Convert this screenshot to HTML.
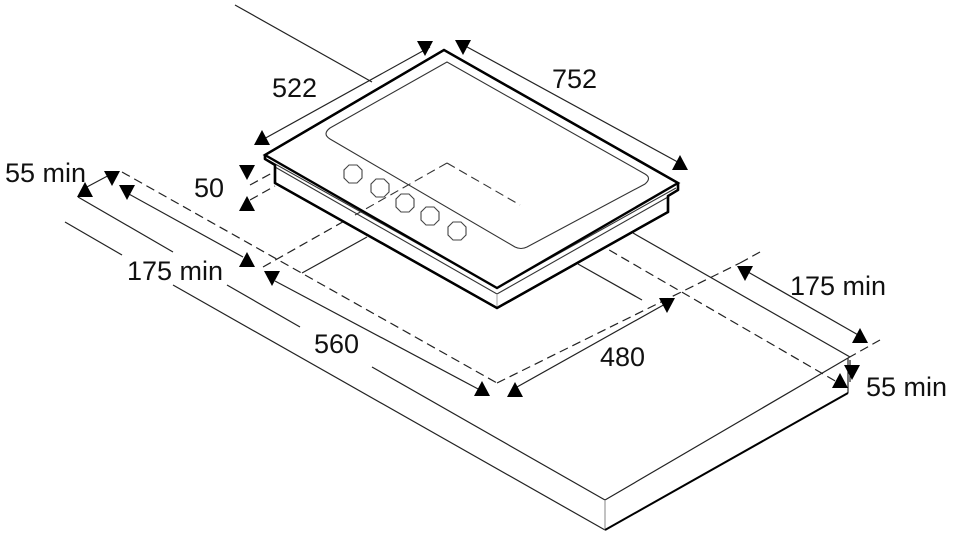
<!DOCTYPE html>
<html><head><meta charset="utf-8"><style>
html,body{margin:0;padding:0;background:#fff}
svg{display:block}
text{font-family:"Liberation Sans",sans-serif;font-size:27px;fill:#111}
</style></head><body>
<svg width="960" height="549" viewBox="0 0 960 549" xmlns="http://www.w3.org/2000/svg">
<defs>
<polygon id="dn" points="-8,-15 8,-15 0,0" fill="#000"/>
<polygon id="up" points="-8,15 8,15 0,0" fill="#000"/>
</defs>
<g stroke="#222" stroke-width="1.2" fill="none">
<line x1="235" y1="5" x2="372" y2="82"/>
<line x1="633" y1="233" x2="850" y2="357"/>
<polyline points="78,197 173,252"/>
<polyline points="227,285 300,327"/>
<polyline points="372,367 605,500"/>
<polyline points="65,222 122,255"/>
<polyline points="173,285 605,530"/>
<line x1="605" y1="500" x2="848" y2="358"/>
<line x1="605" y1="500" x2="605" y2="530" stroke="#999"/>
<line x1="848" y1="358" x2="848" y2="393"/>
<line x1="605" y1="530" x2="848" y2="393" stroke="#000" stroke-width="2"/>
<g stroke-dasharray="9,5">
<line x1="122" y1="172" x2="497" y2="383"/>
<line x1="497" y1="383" x2="740" y2="263"/>
<line x1="585" y1="236" x2="837" y2="382"/>
<line x1="263" y1="267" x2="447" y2="163"/>
<line x1="447" y1="163" x2="540" y2="215"/>
<line x1="740" y1="263" x2="760" y2="252"/>
<line x1="848" y1="358" x2="880" y2="340"/>
<line x1="250" y1="185" x2="272" y2="173"/>
<line x1="250" y1="200" x2="275" y2="186"/>
</g>
<line x1="302" y1="273" x2="367" y2="237"/>
<line x1="578" y1="264" x2="642" y2="300"/>
<line x1="262" y1="140" x2="430" y2="47"/>
<line x1="458" y1="42" x2="685" y2="166"/>
<line x1="85" y1="188" x2="115" y2="172"/>
<line x1="127" y1="193" x2="243" y2="257"/>
<line x1="275" y1="281" x2="480" y2="390"/>
<line x1="517" y1="387" x2="667" y2="303"/>
<line x1="748" y1="272" x2="860" y2="336"/>
<line x1="850" y1="360" x2="850" y2="382"/>
</g>
<g fill="#fff" stroke="#000" stroke-width="2.4" stroke-linejoin="round">
<polygon points="444,50 678,183 678,190 668,196 668,212 497,308 275,183 275,165 265,159 265,155"/>
</g>
<g fill="none" stroke="#333" stroke-width="1.1">
<polyline points="268,160 497,288 676,188"/>
<polyline points="275,167 497,294 668,197"/>
<line x1="497" y1="294" x2="497" y2="308" stroke="#aaa"/>
<path d="M447,62 L330,128 Q322,134 330,139 L515,247 Q521,250 527,247 L645,184 Q652,178 645,174 Z"/>
<g stroke-dasharray="9,5">
<line x1="447" y1="163" x2="520" y2="205"/>
<line x1="447" y1="163" x2="355" y2="215"/>
</g>
<g stroke="#444">
<polygon points="349,165 357,165 362,170 362,178 357,183 349,183 344,178 344,170"/>
<polygon points="376,179 384,179 389,184 389,192 384,197 376,197 371,192 371,184"/>
<polygon points="401,194 409,194 414,199 414,207 409,212 401,212 396,207 396,199"/>
<polygon points="426,207 434,207 439,212 439,220 434,225 426,225 421,220 421,212"/>
<polygon points="453,222 461,222 466,227 466,235 461,240 453,240 448,235 448,227"/>
</g>
</g>
<g stroke="#000" stroke-width="2.4" fill="none">
<polygon points="444,50 678,183 497,288 265,155"/>
<polyline points="265,155 265,159 275,165 275,183 497,308 668,212 668,196 678,190 678,183"/>
</g>
<use href="#dn" x="425" y="56"/>
<use href="#up" x="262" y="130"/>
<use href="#dn" x="463" y="55"/>
<use href="#up" x="680" y="155"/>
<use href="#dn" x="247" y="180"/>
<use href="#up" x="247" y="196"/>
<use href="#dn" x="112" y="186"/>
<use href="#up" x="85" y="182"/>
<use href="#dn" x="127" y="200"/>
<use href="#up" x="247" y="252"/>
<use href="#dn" x="272" y="286"/>
<use href="#up" x="482" y="381"/>
<use href="#up" x="515" y="382"/>
<use href="#dn" x="667" y="313"/>
<use href="#dn" x="745" y="281"/>
<use href="#up" x="860" y="328"/>
<use href="#dn" x="852" y="380"/>
<use href="#up" x="840" y="373"/>
<text x="272" y="97">522</text>
<text x="552" y="88">752</text>
<text x="5" y="182">55 min</text>
<text x="194" y="197">50</text>
<text x="127" y="280">175 min</text>
<text x="314" y="353">560</text>
<text x="600" y="366">480</text>
<text x="790" y="295">175 min</text>
<text x="866" y="396">55 min</text>
</svg>
</body></html>
